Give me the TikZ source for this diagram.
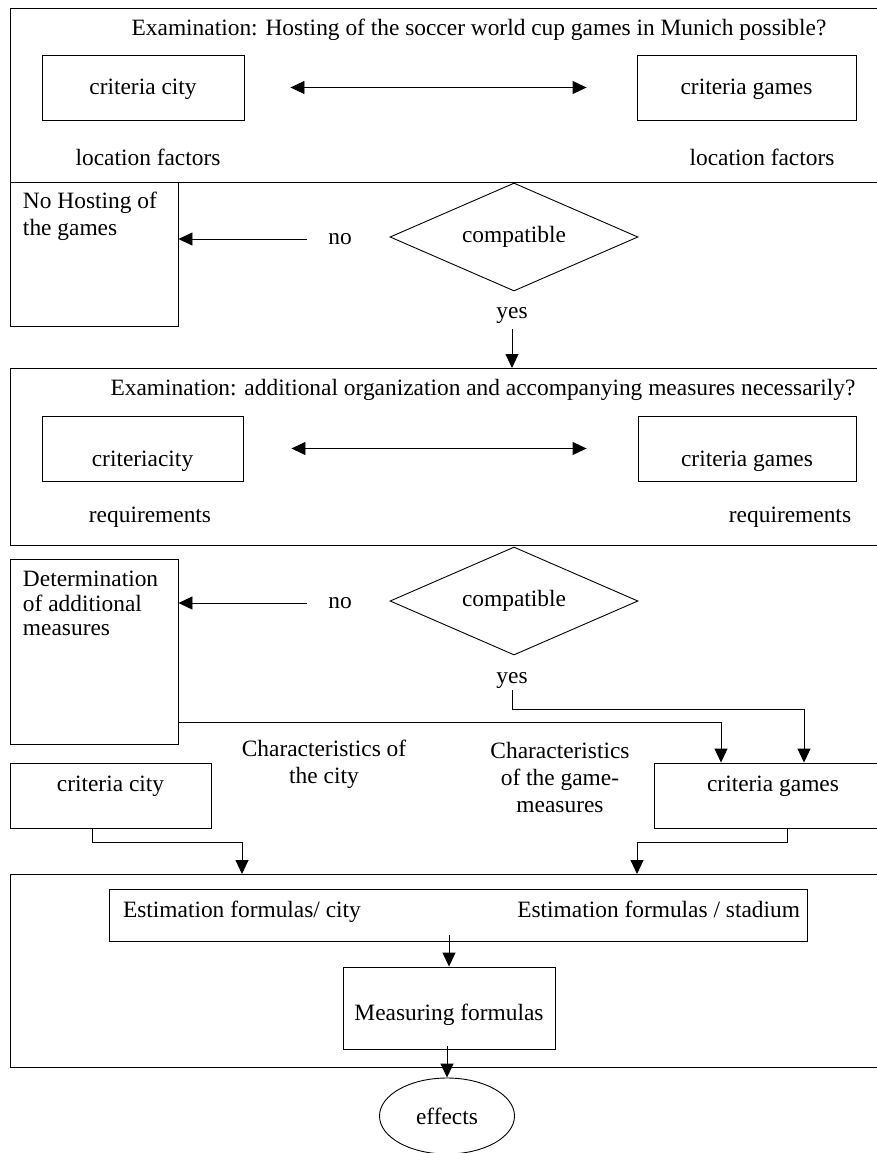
\documentclass[tikz,border=0pt]{standalone}
\usepackage{fontspec}
\setmainfont{Liberation Serif}
\usepackage{tikz}
\usetikzlibrary{shapes.geometric,arrows.meta,positioning,calc}
\tikzstyle{panel}=[draw,rectangle,anchor=north west,inner sep=0pt]
\tikzstyle{crit}=[draw,rectangle,inner sep=0pt]
\tikzstyle{word}=[inner sep=1pt,align=center]
\tikzstyle{decide}=[draw,diamond,aspect=2.3,minimum width=248pt,minimum height=108pt,inner sep=0pt]
\tikzstyle{arr}=[-{Triangle[length=14pt,width=13pt]}]
\tikzstyle{dbl}=[{Triangle[length=14pt,width=13pt]}-{Triangle[length=14pt,width=13pt]}]

\begin{document}
\begin{tikzpicture}[
  x=1pt, y=-1pt,
  line width=0.9pt,
  font={\fontsize{23.4}{27}\selectfont},
  lowtext/.style={text height=42pt,text depth=6pt},
  hightext/.style={text height=16pt,text depth=25pt},
  fixtext/.style={text height=16pt,text depth=5pt},
]
\useasboundingbox (0,0) rectangle (877,1153);

% first examination
\node [panel, minimum width=870pt, minimum height=174pt] (sec1) at (10,8) {};
\node [word] (title1) at (479,30) {Examination: Hosting of the soccer world cup games in Munich possible?};
\node [crit, text height=20pt, text depth=5pt, minimum width=202pt, minimum height=65pt] (cityA) at (143,87.5) {criteria city};
\node [crit, text height=20pt, text depth=5pt, minimum width=219pt, minimum height=65pt] (gamesA) at (746.5,87.5) {criteria games};
\node [word] (locA) at (148,157) {location factors};
\node [word] (locB) at (762,157) {location factors};
\draw [dbl, shorten <=46pt, shorten >=50pt] (cityA) -- (gamesA);

% decision 1
\node [decide] (comp1) at (514,237) {compatible};
\node [crit, minimum width=168pt, minimum height=144pt,
  label={[anchor=north west, align=left, inner sep=0pt, xshift=13pt, yshift=-10pt]north west:No Hosting of\\the games}]
  (nohost) at (94,254) {};
\node [word] (no1) at (340,239) {no};
\coordinate (nofrom1) at (307,239);
\draw [arr] (nofrom1) -- (nofrom1 -| nohost.east);
\node [word] (yes1) at (512,316) {yes};

% second examination
\node [panel, minimum width=870pt, minimum height=177pt] (sec3) at (10,368) {};
\draw [arr] ([yshift=-4pt]yes1.south) -- (yes1.south |- sec3.north);
\node [word] (title2) at (483,390) {Examination: additional organization and accompanying measures necessarily?};
\node [crit, lowtext, minimum width=201pt, minimum height=65pt] (cityB) at (142.5,448.5) {criteriacity};
\node [crit, lowtext, minimum width=218pt, minimum height=65pt] (gamesB) at (747,448.5) {criteria games};
\node [word] (reqA) at (150,517) {requirements};
\node [word] (reqB) at (790,517) {requirements};
\draw [dbl, shorten <=48pt, shorten >=51pt] (cityB) -- (gamesB);

% decision 2
\node [decide] (comp2) at (514,601) {compatible};
\node [crit, minimum width=168pt, minimum height=185pt,
  label={[anchor=north west, align=left, inner sep=0pt, xshift=13pt, yshift=-12pt,
    font={\fontsize{23.4}{24.5}\selectfont}]north west:Determination\\of additional\\measures}]
  (determ) at (94,651.5) {};
\node [word] (no2) at (340,603) {no};
\coordinate (nofrom2) at (307,603);
\draw [arr] (nofrom2) -- (nofrom2 -| determ.east);
\node [word] (yes2) at (512,681) {yes};

% criteria
\node [crit, hightext, minimum width=201pt, minimum height=65pt] (cityC) at (110.5,795.5) {criteria city};
\node [crit, hightext, minimum width=238pt, minimum height=65pt] (gamesC) at (773,795.5) {criteria games};
\node [word] (charA) at (324,764) {Characteristics of\\the city};
\node [word] (charB) at (560,777) {Characteristics\\of the game-\\measures};
\coordinate (turnyes) at (804,709);
\draw [arr] (yes2.south) |- (turnyes) -- (turnyes |- gamesC.north);
\coordinate (turndet) at (721,722);
\draw [arr] (turndet -| determ.east) -- (turndet) -- (turndet |- gamesC.north);

% estimation
\node [panel, minimum width=870pt, minimum height=193pt] (sec5) at (10,874) {};
\coordinate (turnc1) at (92,842);
\coordinate (turnc2) at (242,842);
\draw [arr] (turnc1 |- cityC.south) -- (turnc1) -- (turnc2) -- (turnc2 |- sec5.north);
\coordinate (turng1) at (787,842);
\coordinate (turng2) at (637,842);
\draw [arr] (turng1 |- gamesC.south) -- (turng1) -- (turng2) -- (turng2 |- sec5.north);
\node [crit, minimum width=698pt, minimum height=52pt,
  label={[anchor=west, fixtext, inner sep=0pt, xshift=14pt, yshift=3pt]west:Estimation formulas/ city},
  label={[anchor=east, fixtext, inner sep=0pt, xshift=-7pt, yshift=3pt]east:Estimation formulas / stadium}]
  (estim) at (458,915) {};
\node [crit, lowtext, text height=30pt, minimum width=212pt, minimum height=82pt] (measure) at (449,1008) {Measuring formulas};
\draw [arr] ([yshift=6pt]estim.south -| measure.north) -- (measure.north);
\node [draw, ellipse, minimum width=135pt, minimum height=76pt, inner sep=0pt] (effects) at (447,1116) {effects};
\draw [arr] ([yshift=3pt]measure.south -| effects.north) -- (effects.north);

\end{tikzpicture}
\end{document}
